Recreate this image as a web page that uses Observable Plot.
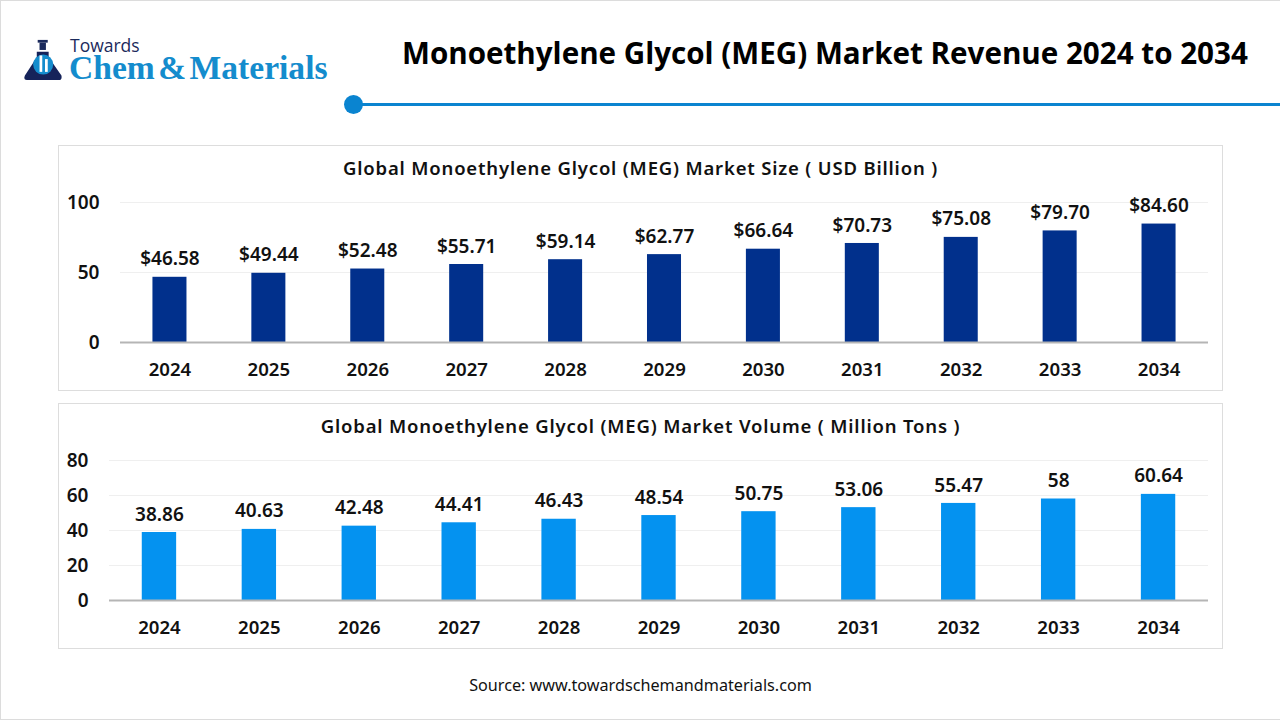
<!DOCTYPE html>
<html><head><meta charset="utf-8">
<script src="https://cdn.jsdelivr.net/npm/d3@7"></script>
<script src="https://cdn.jsdelivr.net/npm/@observablehq/plot@0.6"></script>
<style>
html,body{margin:0;padding:0;background:#fff;}
#page{position:relative;width:1280px;height:720px;overflow:hidden;background:#fff;box-sizing:border-box;border:1px solid #dcdcdc;border-right:none;}
.abs{position:absolute;white-space:nowrap;}
#title{left:401px;top:31px;font:700 29.6px "Open Sans";color:#000;}
#rule{left:353px;top:102px;width:927px;height:3px;background:#0a84d0;}
#dot{left:343px;top:94px;width:19px;height:19px;border-radius:50%;background:#0a84d0;}
#tow{left:69px;top:35px;font:400 17.5px/18px "Open Sans";color:#1b2a5c;}
#chem{left:68px;top:53px;font:700 33.6px/28px "Liberation Serif";color:#148ccd;word-spacing:-5px;}
.panel{left:57px;width:1165px;height:246px;box-sizing:border-box;border:1px solid #dddddd;}
.panel svg{position:absolute;left:0;top:0;display:block;}
.ptitle{left:0;width:100%;text-align:center;font:600 18.5px "Noto Sans";letter-spacing:.82px;color:#111;}
#src{left:0;width:100%;text-align:center;top:673px;font:400 16.2px "Noto Sans";color:#111;}
</style></head><body>
<div id="page">
<svg class="abs" style="left:23px;top:37px" width="42" height="44" viewBox="0 0 46 46">
<rect x="15" y="1" width="11" height="3" fill="#1b2a5c"/><rect x="17" y="4" width="7" height="8" fill="#1b2a5c"/>
<path d="M14 14 L27 14 L27 20 L41 40 Q42 45 38 45 L3 45 Q-1 45 1 40 L14 20 Z" fill="#16235a"/>
<circle cx="21" cy="28" r="11" fill="#148ccd"/>
<rect x="17" y="18" width="3" height="18" fill="#fff"/><rect x="23" y="22" width="3" height="14" fill="#fff"/>
</svg>
<div class="abs" id="tow">Towards</div>
<div class="abs" id="chem">Chem &amp; Materials</div>
<div class="abs" id="title">Monoethylene Glycol (MEG) Market Revenue 2024 to 2034</div>
<div class="abs" id="rule"></div><div class="abs" id="dot"></div>
<div class="abs panel" id="p1" style="top:144px"><div class="abs ptitle" style="top:9px">Global Monoethylene Glycol (MEG) Market Size ( USD Billion )</div></div>
<div class="abs panel" id="p2" style="top:402px"><div class="abs ptitle" style="top:9px">Global Monoethylene Glycol (MEG) Market Volume ( Million Tons )</div></div>
<div class="abs" id="src">Source: www.towardschemandmaterials.com</div>
</div>
<script>
const years = ["2024","2025","2026","2027","2028","2029","2030","2031","2032","2033","2034"];
const sizeValues = [46.58,49.44,52.48,55.71,59.14,62.77,66.64,70.73,75.08,79.70,84.60];
const sizeLabels = ["$46.58","$49.44","$52.48","$55.71","$59.14","$62.77","$66.64","$70.73","$75.08","$79.70","$84.60"];
const volumeValues = [38.86,40.63,42.48,44.41,46.43,48.54,50.75,53.06,55.47,58,60.64];
const volumeLabels = ["38.86","40.63","42.48","44.41","46.43","48.54","50.75","53.06","55.47","58","60.64"];
const sizeTicks = [0,50,100];
const volumeTicks = [0,20,40,60,80];
const FONT = '"Noto Sans"';

function chart(values, labels, ticks, maxY, color, marginLeft) {
  const data = years.map((year,i)=>({year,value:values[i],label:labels[i]}));
  return Plot.plot({
    width:1163, height:244,
    marginLeft, marginRight:14, marginTop:56, marginBottom:48,
    style:{background:"transparent",fontFamily:FONT},
    x:{domain:years,paddingInner:0.656,paddingOuter:0.328,round:false,label:null},
    y:{domain:[0,maxY],label:null},
    marks:[
      Plot.gridY(ticks,{stroke:"#efefef",strokeOpacity:1,strokeWidth:1}),
      Plot.barY(data,{x:"year",y:"value",fill:color}),
      Plot.ruleY([0],{stroke:"#b5b5b5",strokeWidth:2}),
      Plot.text(data,{x:"year",y:"value",text:"label",dy:-18,fontSize:19,fontWeight:600,fill:"#111",fontFamily:FONT}),
      Plot.axisX({tickSize:0,tickPadding:20,fontSize:18.6,fontWeight:600,fill:"#111",label:null,fontFamily:FONT}),
      Plot.axisY(ticks,{tickSize:0,tickPadding:21,fontSize:19,fontWeight:600,fill:"#111",label:null,fontFamily:FONT})
    ]
  });
}
document.getElementById("p1").append(chart(sizeValues,sizeLabels,sizeTicks,100,"#01308c",61));
document.getElementById("p2").append(chart(volumeValues,volumeLabels,volumeTicks,80,"#0492f0",50));
</script>
</body></html>
